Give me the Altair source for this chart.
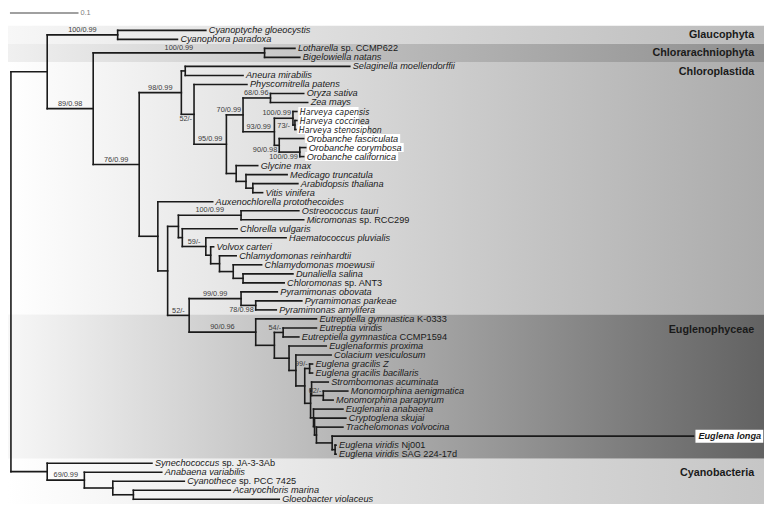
import altair as alt
import pandas as pd

# ---------------- data ----------------
tip_italic = [
    "Cyanoptyche gloeocystis", "Cyanophora paradoxa", "Lotharella", "Bigelowiella natans",
    "Selaginella moellendorffii", "Aneura mirabilis", "Physcomitrella patens", "Oryza sativa", "Zea mays",
    "Harveya capensis", "Harveya coccinea", "Harveya stenosiphon", "Orobanche fasciculata",
    "Orobanche corymbosa", "Orobanche californica", "Glycine max", "Medicago truncatula",
    "Arabidopsis thaliana", "Vitis vinifera", "Auxenochlorella protothecoides", "Ostreococcus tauri",
    "Micromonas", "Chlorella vulgaris", "Haematococcus pluvialis", "Volvox carteri",
    "Chlamydomonas reinhardtii", "Chlamydomonas moewusii", "Dunaliella salina", "Chloromonas",
    "Pyramimonas obovata", "Pyramimonas parkeae", "Pyramimonas amylifera", "Eutreptiella gymnastica",
    "Eutreptia viridis", "Eutreptiella gymnastica", "Euglenaformis proxima", "Colacium vesiculosum",
    "Euglena gracilis Z", "Euglena gracilis bacillaris", "Strombomonas acuminata",
    "Monomorphina aenigmatica", "Monomorphina parapyrum", "Euglenaria anabaena", "Cryptoglena skujai",
    "Trachelomonas volvocina", "Euglena longa", "Euglena viridis", "Euglena viridis", "Synechococcus",
    "Anabaena variabilis", "Cyanothece", "Acaryochloris marina", "Gloeobacter violaceus",
]
tip_roman = [
    "", "", "sp. CCMP622", "", "", "", "", "", "", "", "", "", "", "", "", "", "", "", "", "", "",
    "sp. RCC299", "", "", "", "", "", "", "sp. ANT3", "", "", "", "K-0333", "", "CCMP1594", "", "",
    "", "", "", "", "", "", "", "", "", "Nj001", "SAG 224-17d", "sp. JA-3-3Ab", "", "sp. PCC 7425",
    "", "",
]
tip_depth = [
    0.2843, 0.2429, 0.4143, 0.4214, 0.4943, 0.3386, 0.3443, 0.4271, 0.4329, 0.4171, 0.4171, 0.4157,
    0.4271, 0.4300, 0.4271, 0.3600, 0.4029, 0.4186, 0.3671, 0.2943, 0.4200, 0.4271, 0.3300, 0.4014,
    0.2957, 0.3286, 0.3657, 0.4114, 0.3986, 0.3886, 0.4243, 0.3871, 0.4457, 0.4457, 0.4200, 0.4600,
    0.4671, 0.4400, 0.4400, 0.4629, 0.4914, 0.4700, 0.4843, 0.4886, 0.4843, 0.9957, 0.4743, 0.4743,
    0.2057, 0.2200, 0.2529, 0.3200, 0.3914,
]
highlight_tips = [9, 10, 11, 12, 13, 14]
narrow_tips = [9, 10, 11]
bold_tip = 45

node_ids = ["R", "EU", "G", "A", "CH", "N76", "L0", "L1", "L2", "L3", "L4", "L5", "L6", "H", "H2",
            "O", "O2", "L9", "L10", "L11", "C0", "C1", "C2", "PR", "C3", "C4", "C5", "C6", "C7", "C8",
            "P", "PY", "N78", "E0", "E1", "E2", "E3", "E4", "E5", "GR", "NX", "NST", "NMO", "NEU",
            "NCR", "NTR", "NEL", "NEV", "CY", "CY2", "CY3", "CY4"]
node_depth = [0.0, 0.0529, 0.1557, 0.1200, 0.3700, 0.1871, 0.2486, 0.2543, 0.2671, 0.3143, 0.3386,
              0.3786, 0.3843, 0.4114, 0.4143, 0.3914, 0.4214, 0.3286, 0.3429, 0.3529, 0.2143, 0.2286,
              0.2443, 0.3357, 0.2500, 0.2843, 0.2914, 0.3043, 0.3243, 0.3386, 0.2600, 0.3357, 0.3571,
              0.3571, 0.3843, 0.3971, 0.4057, 0.4157, 0.4286, 0.4357, 0.4371, 0.4386, 0.4557, 0.4414,
              0.4429, 0.4457, 0.4686, 0.4729, 0.0529, 0.1071, 0.1486, 0.1786]
node_kids = [
    ["EU", "CY"], ["G", "A"], [0, 1], ["CH", "N76"], [2, 3], ["L0", "C0"], ["L1", "L2"], [4, 5],
    [6, "L3"], ["L4", "L9"], ["L5", "L6"], [7, 8], ["H", "O"], [9, "H2"], [10, 11], [12, "O2"],
    [13, 14], [15, "L10"], [16, "L11"], [17, 18], [19, "C1"], ["C2", "P"], ["PR", "C3"], [20, 21],
    [22, "C4"], [23, "C5"], [24, "C6"], [25, "C7"], [26, "C8"], [27, 28], ["PY", "E0"], [29, "N78"],
    [30, 31], [32, "E1"], ["E2", "E3"], [33, 34], [35, "E4"], [36, "E5"], ["GR", "NX"], [37, 38],
    ["NST", "NEU"], [39, "NMO"], [40, 41], [42, "NCR"], [43, "NTR"], [44, "NEL"], [45, "NEV"],
    [46, 47], [48, "CY2"], [49, "CY3"], [50, "CY4"], [51, 52],
]
support_nodes = ["G", "A", "CH", "N76", "L0", "L2", "L3", "L4", "L5", "L6", "H", "H2", "O", "O2",
                 "PR", "C4", "P", "PY", "N78", "E0", "E2", "GR", "NMO", "CY2"]
support_values = ["100/0.99", "89/0.98", "100/0.99", "76/0.99", "98/0.99", "52/-", "95/0.99",
                  "70/0.99", "68/0.96", "93/0.99", "100/0.99", "73/-", "90/0.98", "100/0.99",
                  "100/0.99", "59/-", "52/-", "99/0.99", "78/0.98", "90/0.96", "54/-", "99/-", "62/-",
                  "69/0.99"]
support_below = ["L2", "O", "O2", "N78"]
support_left = ["H2"]

clade_names = ["Glaucophyta", "Chlorarachniophyta", "Chloroplastida", "Euglenophyceae", "Cyanobacteria"]
clade_first_tip = [0, 2, 4, 32, 48]
clade_last_tip = [1, 3, 31, 47, 52]
clade_label_row = [0.5, 2.5, 4.6, 33.2, 49.1]
scale_bar_length = 0.1

# ---------------- layout / style ----------------
REF_W, REF_H = 772, 510
W, H = 756, 494
SX = W / REF_W
PXU = 700.0          # reference pixels per unit of branch length
ROOT_PX = 3.0
ROW0, ROW = 21.0, 9.31
x_dom = [-ROOT_PX / PXU, (REF_W - ROOT_PX) / PXU]
y_dom = [-ROW0 / ROW, (REF_H - ROW0) / ROW]
FONT = "Liberation Sans"
NARROW = "Liberation Sans Narrow, Arial Narrow, DejaVu Sans Condensed, Liberation Sans"
TIP_FS, NARROW_FS, SUP_FS, CLADE_FS = 9.4, 8.9, 7.5, 11.0
INK = "#1a1a1a"

band_left = ["#f7f7f7", "#f0f0f0", "#ffffff", "#f7f7f7", "#ffffff"]
band_mid = ["#d8d8d8", "#bababa", "#d4d4d4", "#adadad", "#e0e0e0"]
band_right = ["#bbbbbb", "#8f8f8f", "#ababab", "#626262", "#c6c6c6"]

AW = {' ': 278, '-': 333, '.': 278, '/': 278, 'A': 667, 'B': 667, 'C': 722, 'D': 722, 'E': 667,
      'F': 611, 'G': 778, 'H': 722, 'I': 278, 'J': 500, 'K': 667, 'L': 556, 'M': 833, 'N': 722,
      'O': 778, 'P': 667, 'Q': 778, 'R': 722, 'S': 667, 'T': 611, 'U': 722, 'V': 667, 'W': 944,
      'X': 667, 'Y': 667, 'Z': 611, 'a': 556, 'b': 556, 'c': 500, 'd': 556, 'e': 556, 'f': 278,
      'g': 556, 'h': 556, 'i': 222, 'j': 222, 'k': 500, 'l': 222, 'm': 833, 'n': 556, 'o': 556,
      'p': 556, 'q': 556, 'r': 333, 's': 500, 't': 278, 'u': 556, 'v': 500, 'w': 722, 'x': 500,
      'y': 500, 'z': 500}
BW = {' ': 278, 'E': 667, 'a': 556, 'e': 556, 'g': 611, 'l': 278, 'n': 611, 'o': 611, 'u': 611}


def tw(s, fs, table=AW):
    return sum(table.get(c, 556) for c in s) / 1000.0 * fs


def u(px):
    return px / PXU


def r(px):
    return px / ROW


kids = dict(zip(node_ids, node_kids))
depth = dict(zip(node_ids, node_depth))
parent = {c: n for n in node_ids for c in kids[n] if not isinstance(c, int)}
ypos = {}


def y_of(k):
    if isinstance(k, int):
        return float(k)
    if k not in ypos:
        ys = [y_of(c) for c in kids[k]]
        ypos[k] = (ys[0] + ys[-1]) / 2.0
    return ypos[k]


def d_of(k):
    return tip_depth[k] if isinstance(k, int) else depth[k]


# branches
segs = []
for n in node_ids:
    ys = [y_of(c) for c in kids[n]]
    segs.append(dict(x=depth[n], x2=depth[n], y=min(ys), y2=max(ys)))
    for c in kids[n]:
        segs.append(dict(x=depth[n], x2=d_of(c), y=y_of(c), y2=y_of(c)))
segs_df = pd.DataFrame(segs)

# support labels
sup = []
for n, lab in zip(support_nodes, support_values):
    w = tw(lab, SUP_FS)
    x0, x1 = depth[parent[n]] * PXU, depth[n] * PXU
    if n in support_left:
        cx = x0 - 3 - w / 2
        yy = y_of(n) + r(0.5)
    else:
        if x1 - x0 >= w + 4:
            cx = (x0 + x1) / 2
        else:
            cx = x1 - 2 - w / 2
        off = SUP_FS / 2 + 1.2
        yy = y_of(n) + (r(off + 0.3) if n in support_below else -r(off))
    sup.append(dict(x=cx / PXU, y=yy, t=lab))
sup_df = pd.DataFrame(sup)

# tip labels
ital, narrow, roman, boxes = [], [], [], []
for i, (a, b) in enumerate(zip(tip_italic, tip_roman)):
    if i == bold_tip:
        continue
    x0 = tip_depth[i] + u(3)
    if i in narrow_tips:
        narrow.append(dict(x=x0, y=float(i), t=a))
        wpx = tw(a, NARROW_FS) * 0.82
    else:
        ital.append(dict(x=x0, y=float(i), t=a))
        wpx = tw(a, TIP_FS)
    if b:
        roman.append(dict(x=x0 + u(tw(a + " ", TIP_FS)), y=float(i), t=b))
    if i in highlight_tips:
        boxes.append(dict(x=tip_depth[i] + u(1.5), x2=x0 + u(wpx + 2), y=i - 0.5, y2=i + 0.5))
bw = tw(tip_italic[bold_tip], TIP_FS, BW)
boxes.append(dict(x=tip_depth[bold_tip] + u(2), x2=tip_depth[bold_tip] + u(5 + bw + 2),
                  y=bold_tip - 0.72, y2=bold_tip + 0.72))
ital_df, narrow_df = pd.DataFrame(ital), pd.DataFrame(narrow)
roman_df, box_df = pd.DataFrame(roman), pd.DataFrame(boxes)
bold_df = pd.DataFrame([dict(x=tip_depth[bold_tip] + u(5), y=float(bold_tip), t=tip_italic[bold_tip])])

# bands
band_rows = []
for k, nm in enumerate(clade_names):
    y2 = clade_last_tip[k] + 0.5 if k < len(clade_names) - 1 else y_dom[1]
    band_rows.append(dict(name=nm, x=x_dom[0], x2=x_dom[1], y=clade_first_tip[k] - 0.5, y2=y2,
                          ly=clade_label_row[k], lx=u(REF_W - 10 - ROOT_PX)))
band_df = pd.DataFrame(band_rows)

# scale bar
sb_df = pd.DataFrame([dict(x=u(-1), x2=u(-1) + scale_bar_length, y=r(3 - ROW0), t=str(scale_bar_length))])

X = lambda f: alt.X(f, type="quantitative", scale=alt.Scale(domain=x_dom, nice=False, zero=False), axis=None)
Y = lambda f: alt.Y(f, type="quantitative", scale=alt.Scale(domain=y_dom, nice=False, zero=False, reverse=True), axis=None)


def grad(c0, c1, c2):
    return alt.LinearGradient(gradient="linear", x1=0, x2=1, y1=0, y2=0,
                              stops=[alt.GradientStop(color=c0, offset=0),
                                     alt.GradientStop(color=c1, offset=0.5),
                                     alt.GradientStop(color=c2, offset=1)])


layers = []
for k in range(len(clade_names)):
    layers.append(alt.Chart(band_df.iloc[[k]]).mark_rect(fill=grad(band_left[k], band_mid[k], band_right[k]),
                                                         strokeWidth=0)
                  .encode(x=X("x"), x2="x2", y=Y("y"), y2="y2"))

layers.append(alt.Chart(band_df).mark_text(font=FONT, fontWeight="bold", fontSize=CLADE_FS * SX, align="right",
                                           baseline="middle", color=INK)
              .encode(x=X("lx"), y=Y("ly"), text="name"))
layers.append(alt.Chart(box_df).mark_rect(fill="white").encode(x=X("x"), x2="x2", y=Y("y"), y2="y2"))
layers.append(alt.Chart(segs_df).mark_rule(color=INK, strokeWidth=1.6, strokeCap="square")
              .encode(x=X("x"), x2="x2", y=Y("y"), y2="y2"))
layers.append(alt.Chart(ital_df).mark_text(font=FONT, fontStyle="italic", fontSize=TIP_FS * SX, align="left",
                                           baseline="middle", color=INK)
              .encode(x=X("x"), y=Y("y"), text="t"))
layers.append(alt.Chart(narrow_df).mark_text(font=NARROW, fontStyle="italic", fontSize=NARROW_FS * SX,
                                             align="left", baseline="middle", color=INK)
              .encode(x=X("x"), y=Y("y"), text="t"))
layers.append(alt.Chart(roman_df).mark_text(font=FONT, fontSize=TIP_FS * SX, align="left",
                                            baseline="middle", color=INK)
              .encode(x=X("x"), y=Y("y"), text="t"))
layers.append(alt.Chart(bold_df).mark_text(font=FONT, fontStyle="italic", fontWeight="bold",
                                           fontSize=TIP_FS * SX, align="left", baseline="middle", color=INK)
              .encode(x=X("x"), y=Y("y"), text="t"))
layers.append(alt.Chart(sup_df).mark_text(font=FONT, fontSize=SUP_FS * SX, align="center",
                                          baseline="middle", color="#3c3c3c")
              .encode(x=X("x"), y=Y("y"), text="t"))
layers.append(alt.Chart(sb_df).mark_rule(color="#808080", strokeWidth=1.5)
              .encode(x=X("x"), x2="x2", y=Y("y")))
layers.append(alt.Chart(sb_df).mark_text(font=FONT, fontSize=SUP_FS * SX, align="left", baseline="middle",
                                         color="#808080", dx=2)
              .encode(x=X("x2"), y=Y("y"), text="t"))

chart = (alt.layer(*layers)
         .properties(width=W, height=H, padding={"left": 0, "top": 0, "right": 0, "bottom": 0})
         .configure_view(stroke=None))

chart.save("out.html", embed_options={"renderer": "svg", "actions": False})
